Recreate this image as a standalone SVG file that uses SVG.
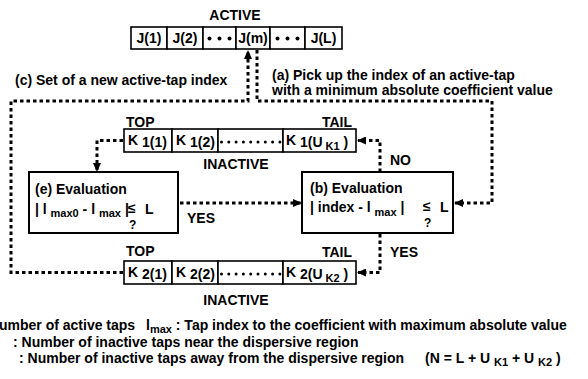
<svg xmlns="http://www.w3.org/2000/svg" width="588" height="379" viewBox="0 0 588 379">
<style>
.t{font-family:"Liberation Sans",Arial,Helvetica,sans-serif;font-weight:bold;font-size:14px;fill:#000}
.c{text-anchor:middle}
.s{font-size:11px}
.box{fill:#fff;stroke:#000;stroke-width:1.6}
.ebox{fill:#fff;stroke:#000;stroke-width:2}
.dot{fill:none;stroke:#000;stroke-width:3;stroke-dasharray:3.5 3}
.bul{fill:none;stroke:#000;stroke-linecap:round}
.jd{fill:#000}
</style>
<defs>
<marker id="ah" markerUnits="userSpaceOnUse" markerWidth="9" markerHeight="8" refX="8" refY="4" orient="auto">
<path d="M0,0 L9,4 L0,8 Z" fill="#000"/>
</marker>
</defs>
<rect width="588" height="379" fill="#fff"/>

<g id="active">
<text class="t c" x="235" y="20">ACTIVE</text>
<rect class="box" x="131" y="27" width="36" height="22"/>
<rect class="box" x="167" y="27" width="36" height="22"/>
<rect class="box" x="203" y="27" width="33" height="22"/>
<rect class="box" x="236" y="27" width="34" height="22"/>
<rect class="box" x="270" y="27" width="35" height="22"/>
<rect class="box" x="305" y="27" width="37" height="22"/>
<text class="t c" x="149" y="43">J(1)</text>
<text class="t c" x="185" y="43">J(2)</text>
<circle class="jd" cx="209.5" cy="38.5" r="2"/>
<circle class="jd" cx="219.5" cy="38.5" r="2"/>
<circle class="jd" cx="229.5" cy="38.5" r="2"/>
<text class="t c" x="253" y="43">J(m)</text>
<circle class="jd" cx="277.5" cy="38.5" r="2"/>
<circle class="jd" cx="287.5" cy="38.5" r="2"/>
<circle class="jd" cx="297.5" cy="38.5" r="2"/>
<text class="t c" x="323.5" y="43">J(L)</text>
</g>

<g id="inactive1">
<text class="t" x="126" y="127">TOP</text>
<text class="t" x="322" y="127">TAIL</text>
<rect class="box" x="124" y="129" width="48" height="23"/>
<rect class="box" x="172" y="129" width="46" height="23"/>
<rect class="box" x="218" y="129" width="65" height="23"/>
<rect class="box" x="283" y="129" width="73" height="23"/>
<text class="t" x="128" y="145">K <tspan dy="2">1(1)</tspan></text>
<text class="t" x="176" y="145">K <tspan dy="2">1(2)</tspan></text>
<path class="bul" d="M221.5,142 H281" stroke-width="3" stroke-dasharray="0 7.3"/>
<text class="t" x="286" y="145">K <tspan dy="2">1(U</tspan><tspan class="s" dy="3"> K1</tspan><tspan dy="-3"> )</tspan></text>
<text class="t c" x="236" y="169">INACTIVE</text>
</g>

<g id="inactive2">
<text class="t" x="126" y="256">TOP</text>
<text class="t" x="322" y="257">TAIL</text>
<rect class="box" x="124" y="261" width="48" height="23"/>
<rect class="box" x="172" y="261" width="46" height="23"/>
<rect class="box" x="218" y="261" width="65" height="23"/>
<rect class="box" x="283" y="261" width="73" height="23"/>
<text class="t" x="128" y="277">K <tspan dy="2">2(1)</tspan></text>
<text class="t" x="176" y="277">K <tspan dy="2">2(2)</tspan></text>
<path class="bul" d="M221.5,274 H281" stroke-width="3" stroke-dasharray="0 7.3"/>
<text class="t" x="286" y="277">K <tspan dy="2">2(U</tspan><tspan class="s" dy="3"> K2</tspan><tspan dy="-3"> )</tspan></text>
<text class="t c" x="236" y="305">INACTIVE</text>
</g>

<g id="evalE">
<rect class="ebox" x="29" y="172" width="149" height="61"/>
<text class="t" x="35" y="194">(e) Evaluation</text>
<text class="t" x="35" y="214">| l <tspan class="s" dy="3">max0</tspan><tspan dy="-3"> - l </tspan><tspan class="s" dy="3">max</tspan><tspan dy="-3"> |</tspan></text>
<text class="t" x="128" y="213">≤</text>
<text class="t" x="145" y="214">L</text>
<text class="t" x="129" y="229" style="font-size:12px">?</text>
</g>

<g id="evalB">
<rect class="ebox" x="302" y="172" width="151" height="61"/>
<text class="t" x="310" y="193">(b) Evaluation</text>
<text class="t" x="310" y="212">| index - l <tspan class="s" dy="4">max</tspan><tspan dy="-4"> |</tspan></text>
<text class="t" x="423" y="211">≤</text>
<text class="t" x="440" y="212">L</text>
<text class="t" x="424" y="227" style="font-size:12px">?</text>
</g>

<g id="labels">
<text class="t" x="15" y="85">(c) Set of a new active-tap index</text>
<text class="t" x="272" y="80">(a) Pick up the index of an active-tap</text>
<text class="t" x="272" y="95">with a minimum absolute coefficient value</text>
<text class="t" x="390" y="165">NO</text>
<text class="t" x="187" y="223">YES</text>
<text class="t" x="390" y="257">YES</text>
</g>

<g id="connectors">
<path class="dot" d="M123,272.5 H11 V101 H248 V51" marker-end="url(#ah)"/>
<path class="dot" d="M257,50 V101 H492 V203 H455" marker-end="url(#ah)"/>
<path class="dot" d="M380,172 V140.5 H358" marker-end="url(#ah)"/>
<path class="dot" d="M123,140.5 H97 V171" marker-end="url(#ah)"/>
<path class="dot" d="M180,203 H301" marker-end="url(#ah)"/>
<path class="dot" d="M380,234 V272.5 H358" marker-end="url(#ah)"/>
</g>

<g id="legend">
<text class="t" x="-1" y="330">umber of active taps</text>
<text class="t" x="146" y="330">l<tspan class="s" dy="3">max</tspan><tspan dy="-3"> : Tap index to the coefficient with maximum absolute value</tspan></text>
<text class="t" x="13" y="346.5">: Number of inactive taps near the dispersive region</text>
<text class="t" x="19" y="363">: Number of inactive taps away from the dispersive region</text>
<text class="t" x="425" y="363">(N = L + U <tspan class="s" dy="3">K1</tspan><tspan dy="-3"> + U </tspan><tspan class="s" dy="3">K2</tspan><tspan dy="-3">  )</tspan></text>
</g>
</svg>
